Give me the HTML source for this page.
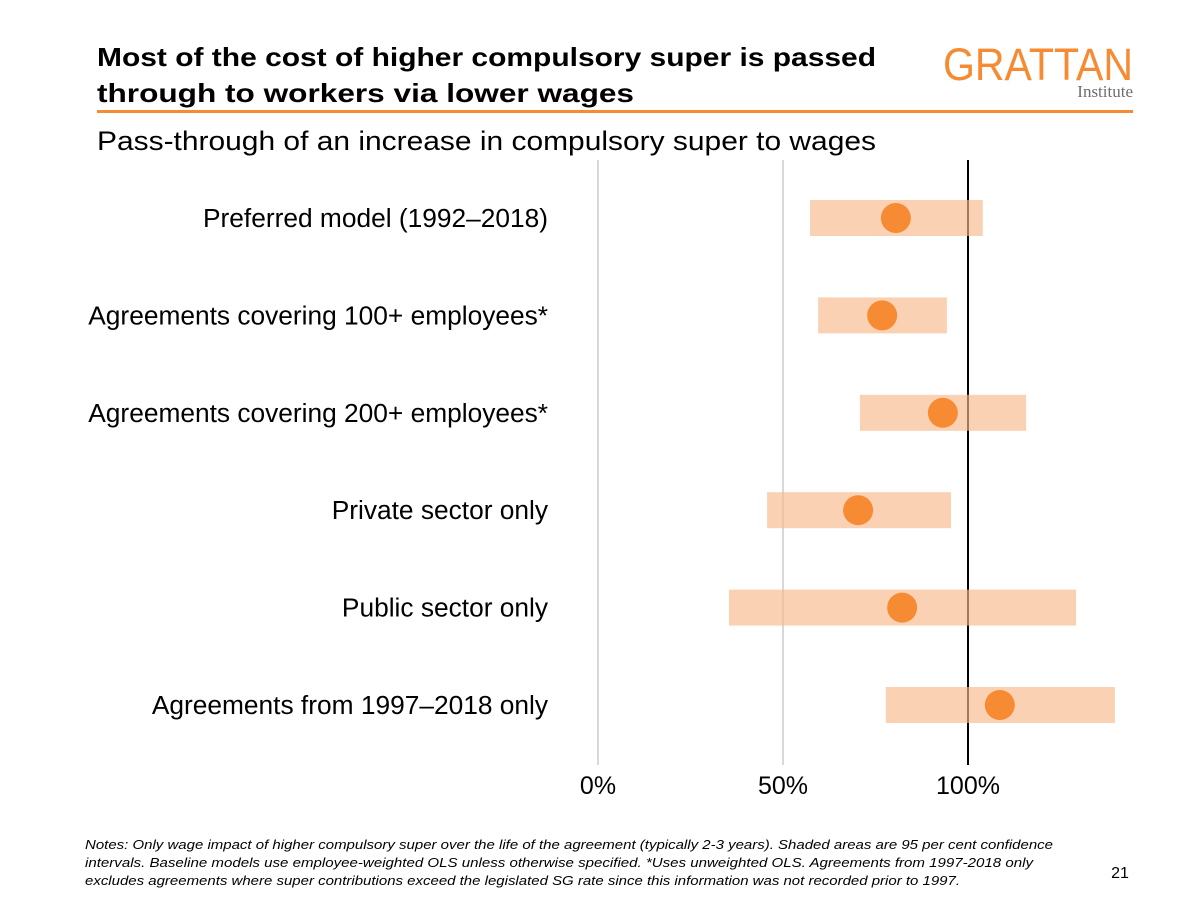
<!DOCTYPE html>
<html><head><meta charset="utf-8"><style>
html,body{margin:0;padding:0;background:#fff;}
svg{display:block;font-family:"Liberation Sans",Arial,sans-serif;}
</style></head><body>
<svg id="chart" width="1200" height="900" viewBox="0 0 1200 900">
<text x="97" y="66" font-size="26" font-weight="bold" fill="#000" textLength="779" lengthAdjust="spacingAndGlyphs">Most of the cost of higher compulsory super is passed</text>
<text x="97" y="102" font-size="26" font-weight="bold" fill="#000" textLength="537" lengthAdjust="spacingAndGlyphs">through to workers via lower wages</text>
<text x="1133" y="80" font-size="45" fill="#F68B33" text-anchor="end" textLength="190" lengthAdjust="spacingAndGlyphs">GRATTAN</text>
<text x="1133" y="97" font-size="17" fill="#6d6e71" text-anchor="end" font-family="Liberation Serif,serif">Institute</text>
<rect x="97" y="110" width="1036" height="3" fill="#F68B33"/>
<text x="97" y="150" font-size="27" fill="#000" textLength="779" lengthAdjust="spacingAndGlyphs">Pass-through of an increase in compulsory super to wages</text>
<g id="plot"></g>
<g font-size="13" font-style="italic" fill="#000">
<text x="85" y="849" textLength="968" lengthAdjust="spacingAndGlyphs">Notes: Only wage impact of higher compulsory super over the life of the agreement (typically 2-3 years). Shaded areas are 95 per cent confidence</text>
<text x="85" y="867" textLength="948" lengthAdjust="spacingAndGlyphs">intervals. Baseline models use employee-weighted OLS unless otherwise specified. *Uses unweighted OLS. Agreements from 1997-2018 only</text>
<text x="85" y="885" textLength="875" lengthAdjust="spacingAndGlyphs">excludes agreements where super contributions exceed the legislated SG rate since this information was not recorded prior to 1997.</text>
</g>
<text x="1120" y="878" font-size="16" text-anchor="middle">21</text>
</svg>
<script>
const categories=["Preferred model (1992\u20132018)","Agreements covering 100+ employees*","Agreements covering 200+ employees*","Private sector only","Public sector only","Agreements from 1997\u20132018 only"];
const lowValues=[57.3,59.5,70.8,45.7,35.4,77.8];
const highValues=[104,94.3,115.7,95.4,129.2,139.7];
const pointValues=[80.5,76.8,93.2,70.3,82.2,108.6];
const tickValues=[0,50,100];
const tickLabels=["0%","50%","100%"];
const NS="http://www.w3.org/2000/svg";
const g=document.getElementById('plot');
const x=v=>598+v*3.7;
const y=i=>218+i*97.4;
function mk(t,a){const e=document.createElementNS(NS,t);for(const k in a)e.setAttribute(k,a[k]);g.appendChild(e);return e;}
tickValues.forEach((t,i)=>{
  const l=mk('line',{x1:x(t),x2:x(t),y1:160,y2:765,stroke:t===100?'#000':'#bdbdbd','stroke-width':t===100?2:1.2});
  
  
  const tx=mk('text',{x:x(t),y:794,'font-size':25,'text-anchor':'middle'});
  tx.textContent=tickLabels[i];
  
  
});
categories.forEach((c,i)=>{
  const lb=mk('text',{x:548,y:y(i)+9,'font-size':26.3,'text-anchor':'end'});
  lb.textContent=c;
  
  
  const r=mk('rect',{x:x(lowValues[i]),y:y(i)-18,width:x(highValues[i])-x(lowValues[i]),height:36,fill:'#F9B98A','fill-opacity':0.65});
  
  
  const p=mk('circle',{cx:x(pointValues[i]),cy:y(i),r:15,fill:'#F68B33'});
  
  
});
</script>
</body></html>
